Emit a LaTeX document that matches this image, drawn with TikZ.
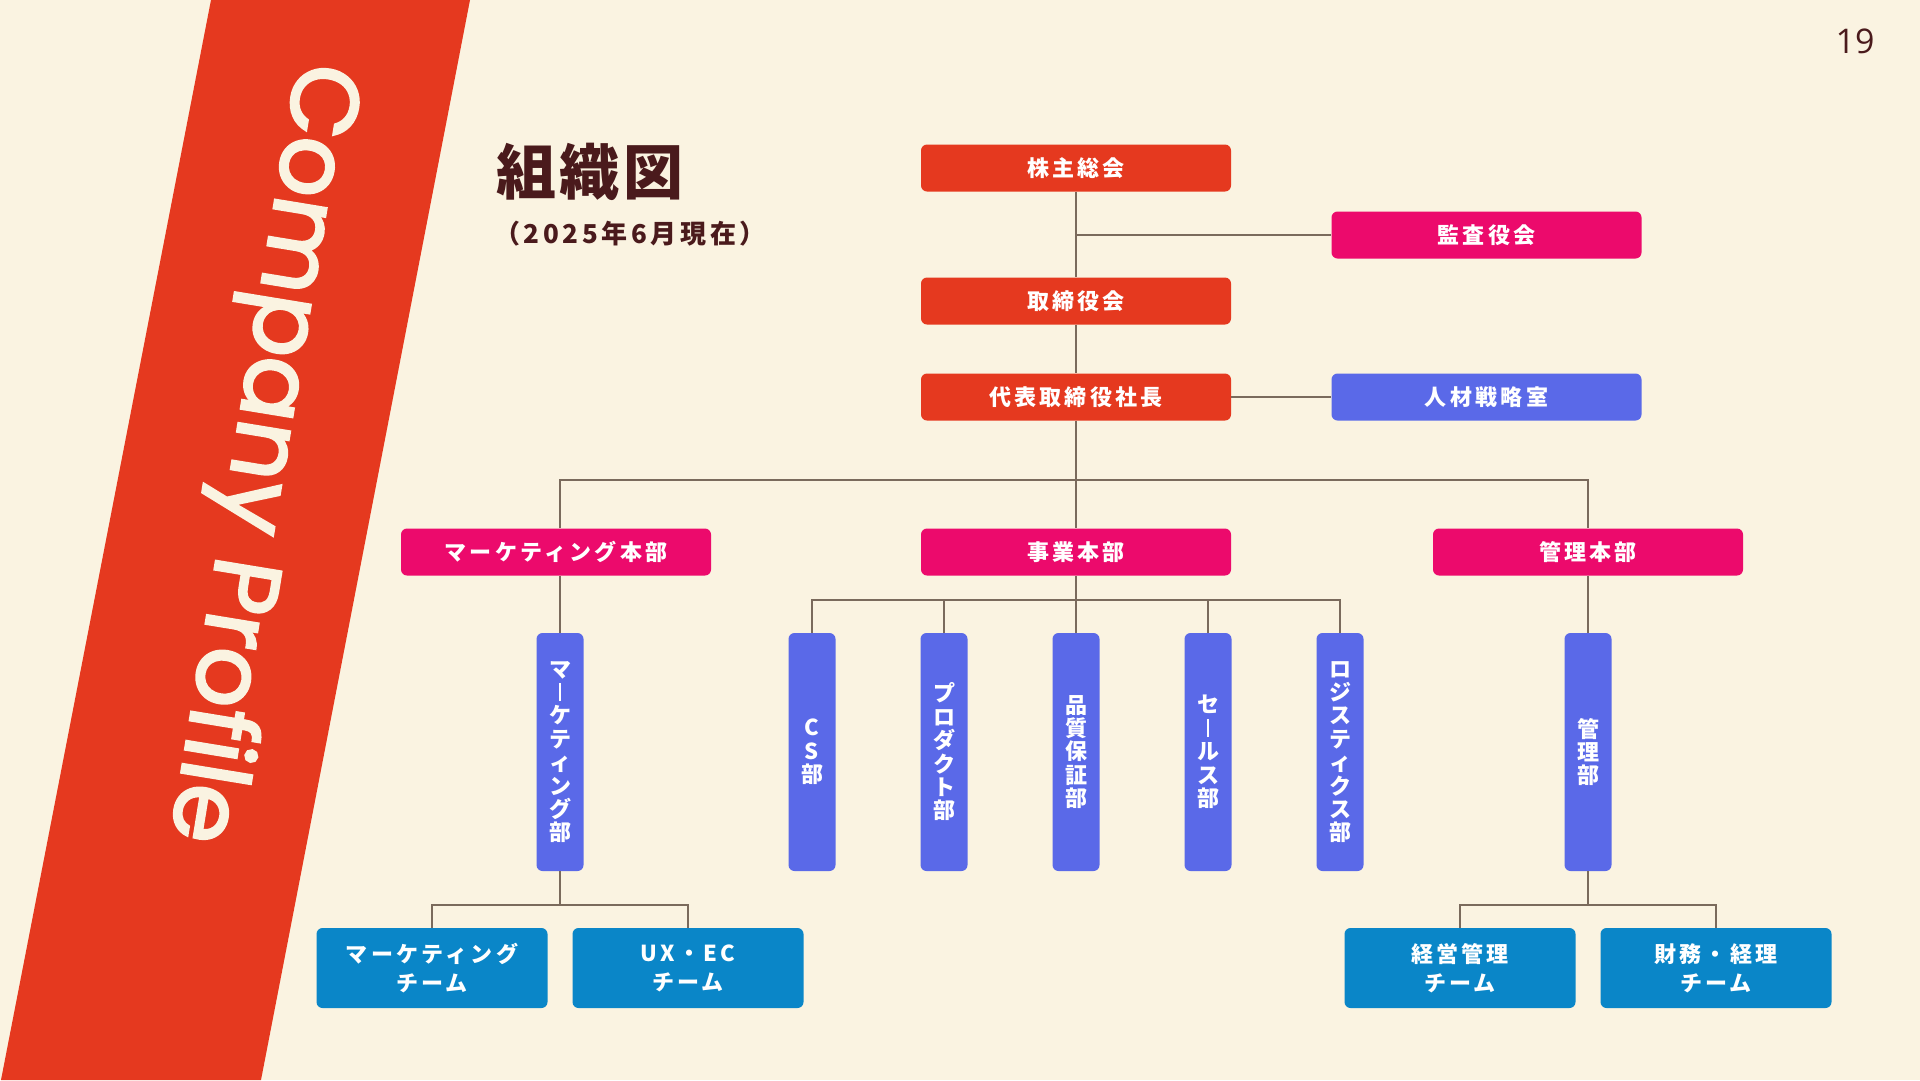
\documentclass[tikz,border=0pt]{standalone}
\usepackage{fontspec}
\setmainfont{Noto Sans CJK JP}
\newfontfamily\jpb[LetterSpace=15]{Noto Sans CJK JP}
\newfontfamily\jpt[LetterSpace=6]{Noto Sans CJK JP}
\newfontfamily\jps[LetterSpace=14]{Noto Sans CJK JP}
\newfontfamily\jpv{Noto Sans CJK JP}
\newfontfamily\cpf[FakeBold=2.5]{Poppins}
\newfontfamily\pgf{Open Sans}
\usetikzlibrary{calc}
\definecolor{bg}{HTML}{FAF3E1}
\definecolor{cred}{HTML}{E5391F}
\definecolor{cmag}{HTML}{EC0A6C}
\definecolor{cvio}{HTML}{5A69E8}
\definecolor{ccyan}{HTML}{0A86C8}
\definecolor{cline}{HTML}{7A6A5C}
\definecolor{cdark}{HTML}{4A1A1C}
\newcommand\vbar{\rule[-0.03em]{0.09em}{0.82em}}
\tikzset{
  box/.style={rounded corners=6pt, minimum width=310pt, minimum height=47pt, inner sep=0pt, text=white, font=\jpb\bfseries\fontsize{22}{26}\selectfont},
  redbox/.style={box, fill=cred},
  magbox/.style={box, fill=cmag},
  viobox/.style={box, fill=cvio},
  vertbox/.style={rounded corners=6pt, fill=cvio, minimum width=47pt, minimum height=238pt, inner sep=0pt, text=white, align=center, font=\jpv\bfseries\fontsize{22}{23.4}\selectfont},
  teambox/.style={rounded corners=6pt, fill=ccyan, minimum width=231pt, minimum height=80pt, inner sep=0pt, text=white, align=center, font=\jpb\bfseries\fontsize{22}{29}\selectfont},
  conn/.style={draw=cline, line width=1.5pt}
}
\begin{document}
\begin{tikzpicture}[x=1pt,y=-1pt]
\fill[bg] (0,0) rectangle (1920,1080);
\useasboundingbox (0,0) rectangle (1920,1080);
\fill[cred] (211,0) -- (470,0) -- (261,1080) -- (1,1080) -- cycle;
\node[rotate=-99.3, anchor=base west, inner sep=0pt, text=bg, font=\cpf\fontsize{95}{95}\selectfont] (cpt) at (298,60) {Company Profile};
\node[anchor=west, inner sep=0pt, text=cdark, font=\jpt\bfseries\fontsize{60}{60}\selectfont] (title) at (496,172) {組織図};
\node[anchor=west, inner sep=0pt, text=cdark, font=\jps\bfseries\fontsize{26}{26}\selectfont] (sub) at (494,234) {（2025年6月現在）};
\node[inner sep=0pt, text=cdark, font=\pgf\fontsize{34}{34}\selectfont] (pg) at (1855,41) {19};
% top level
\node[redbox] (kabu) at (1076,168) {株主総会};
\node[magbox] (kansa) at (1486.5,235) {監査役会};
\node[redbox] (tori) at (1076,301) {取締役会};
\node[redbox] (daihyo) at (1076,397) {代表取締役社長};
\node[viobox] (jinzai) at (1486.5,397) {人材戦略室};
\node[magbox] (mkthq) at (556,552) {マーケティング本部};
\node[magbox] (jigyo) at (1076,552) {事業本部};
\node[magbox] (kanri) at (1588,552) {管理本部};
% departments
\node[vertbox] (mktd) at (560,752) {マ\\\vbar\\ケ\\テ\\ィ\\ン\\グ\\部};
\node[vertbox] (cs) at (812,752) {C\\S\\部};
\node[vertbox] (prod) at (944,752) {プ\\ロ\\ダ\\ク\\ト\\部};
\node[vertbox] (qa) at (1076,752) {品\\質\\保\\証\\部};
\node[vertbox] (sales) at (1208,752) {セ\\\vbar\\ル\\ス\\部};
\node[vertbox] (logi) at (1340,752) {ロ\\ジ\\ス\\テ\\ィ\\ク\\ス\\部};
\node[vertbox] (kanrid) at (1588,752) {管\\理\\部};
% teams
\node[teambox] (mteam) at (432,968) {マーケティング\\チーム};
\node[teambox] (ux) at (688,968) {UX・EC\\チーム};
\node[teambox] (keiei) at (1460,968) {経営管理\\チーム};
\node[teambox] (zaimu) at (1716,968) {財務・経理\\チーム};
% connectors
\coordinate (bus1) at (1076,480);
\coordinate (bus2) at (1076,600);
\coordinate (bus3) at (560,905);
\coordinate (bus4) at (1588,905);
\draw[conn] (kabu.south) -- (tori.north);
\draw[conn] (kabu.south |- kansa.west) -- (kansa.west);
\draw[conn] (tori.south) -- (daihyo.north);
\draw[conn] (daihyo.east) -- (jinzai.west);
\draw[conn] (daihyo.south) -- (jigyo.north);
\draw[conn] (mktd.north |- mkthq.north) |- (bus1) -| (kanri.north);
\draw[conn] (mktd.north |- mkthq.south) -- (mktd.north);
\draw[conn] (jigyo.south) -- (qa.north);
\draw[conn] (cs.north) |- (bus2) -| (logi.north);
\draw[conn] (prod.north) -- (prod.north |- bus2);
\draw[conn] (sales.north) -- (sales.north |- bus2);
\draw[conn] (kanri.south) -- (kanrid.north);
\draw[conn] (mktd.south) -- (bus3);
\draw[conn] (mteam.north) |- (bus3) -| (ux.north);
\draw[conn] (kanrid.south) -- (bus4);
\draw[conn] (keiei.north) |- (bus4) -| (zaimu.north);
\end{tikzpicture}
\end{document}
